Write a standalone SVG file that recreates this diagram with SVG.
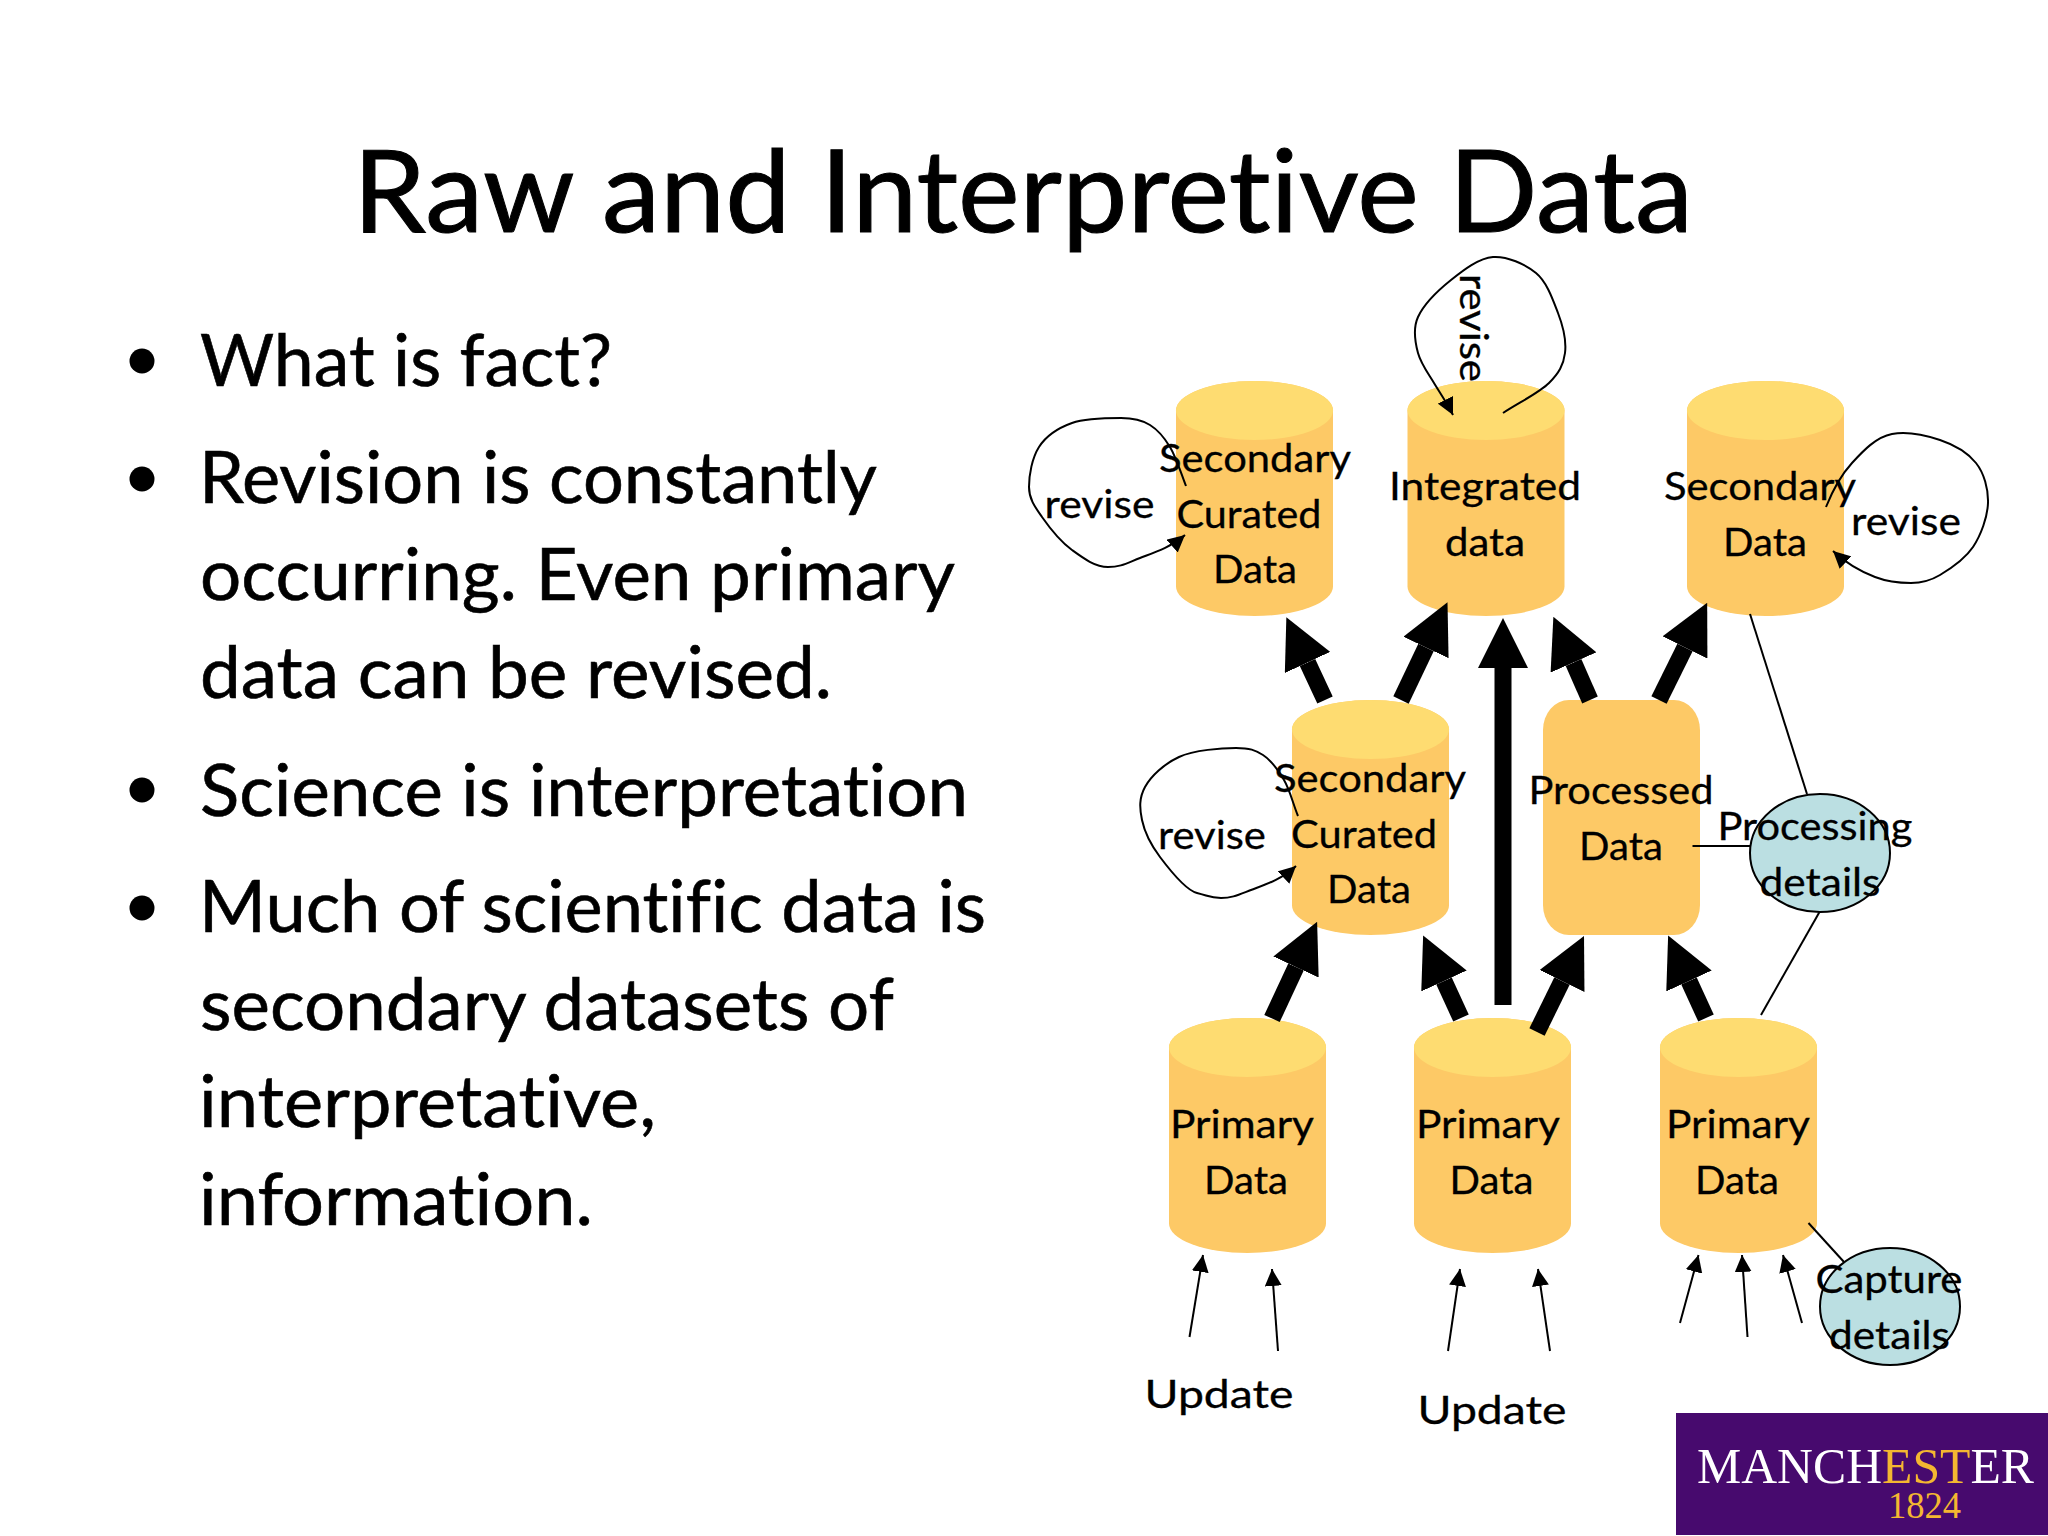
<svg xmlns="http://www.w3.org/2000/svg" width="2048" height="1536" viewBox="0 0 2048 1536">
<style>
text{font-family:"Lato","Open Sans",sans-serif;fill:#000;font-variant-ligatures:none}
.t{font-size:114px;stroke:#000;stroke-width:1}
.b{font-size:71px;stroke:#000;stroke-width:.6}
.n{font-size:39px;text-anchor:middle;stroke:#000;stroke-width:.3}
.body{fill:#fdc966}
.top{fill:#fedc71}
.det{fill:#bbdfe2;stroke:#000;stroke-width:2}
.thick{stroke:#000;fill:none;stroke-width:17;marker-end:url(#hk)}
.thin{stroke:#000;fill:none;stroke-width:2;marker-end:url(#hn)}
.plain{stroke:#000;fill:none;stroke-width:2}
.logo{font-family:"Liberation Serif",serif;stroke:none}
</style>
<defs>
<marker id="hk" viewBox="0 0 50 50" refX="0" refY="25" markerWidth="50" markerHeight="50" markerUnits="userSpaceOnUse" orient="auto"><path d="M0 0L50 25L0 50Z" fill="#000"/></marker>
<marker id="hn" viewBox="0 0 17 17" refX="17" refY="8.5" markerWidth="17" markerHeight="17" markerUnits="userSpaceOnUse" orient="auto"><path d="M0 0L17 8.5L0 17Z" fill="#000"/></marker>
<g id="cyl">
<path class="body" d="M0 29.5A78.5 29.5 0 0 1 157 29.5V205.5A78.5 29.5 0 0 1 0 205.5Z"/>
<ellipse class="top" cx="78.5" cy="29.5" rx="78.5" ry="29.5"/>
</g>
</defs>
<rect width="2048" height="1536" fill="#fff"/>

<g id="title"><text class="t" x="353" y="232" textLength="1340" lengthAdjust="spacingAndGlyphs">Raw and Interpretive Data</text></g>

<g id="bullets">
<circle cx="142" cy="361" r="12.5"/><circle cx="142" cy="479" r="12.5"/><circle cx="142" cy="790" r="12.5"/><circle cx="142" cy="908" r="12.5"/>
<text class="b" x="200" y="386" textLength="412" lengthAdjust="spacingAndGlyphs">What is fact?</text>
<text class="b" x="199" y="503" textLength="678" lengthAdjust="spacingAndGlyphs">Revision is constantly</text>
<text class="b" x="200" y="600" textLength="755" lengthAdjust="spacingAndGlyphs">occurring. Even primary</text>
<text class="b" x="200" y="698" textLength="632" lengthAdjust="spacingAndGlyphs">data can be revised.</text>
<text class="b" x="200" y="816" textLength="768" lengthAdjust="spacingAndGlyphs">Science is interpretation</text>
<text class="b" x="199" y="932" textLength="787" lengthAdjust="spacingAndGlyphs">Much of scientific data is</text>
<text class="b" x="200" y="1030" textLength="694" lengthAdjust="spacingAndGlyphs">secondary datasets of</text>
<text class="b" x="199" y="1127" textLength="457" lengthAdjust="spacingAndGlyphs">interpretative,</text>
<text class="b" x="199" y="1225" textLength="394" lengthAdjust="spacingAndGlyphs">information.</text>
</g>

<text id="revise-integrated" class="n" style="text-anchor:start" transform="translate(1460 274) rotate(90)" textLength="108" lengthAdjust="spacingAndGlyphs">revise</text>

<g id="secondary-curated-top"><use href="#cyl" x="1176" y="381"/>
<text class="n" x="1255" y="472" textLength="192" lengthAdjust="spacingAndGlyphs">Secondary</text>
<text class="n" x="1249" y="528" textLength="145" lengthAdjust="spacingAndGlyphs">Curated</text>
<text class="n" x="1255" y="583" textLength="84" lengthAdjust="spacingAndGlyphs">Data</text></g>
<g id="integrated"><use href="#cyl" x="1407.5" y="381"/>
<text class="n" x="1485" y="500" textLength="192" lengthAdjust="spacingAndGlyphs">Integrated</text>
<text class="n" x="1485" y="556" textLength="80" lengthAdjust="spacingAndGlyphs">data</text></g>
<g id="secondary-data"><use href="#cyl" x="1687" y="381"/>
<text class="n" x="1760" y="500" textLength="192" lengthAdjust="spacingAndGlyphs">Secondary</text>
<text class="n" x="1765" y="556" textLength="84" lengthAdjust="spacingAndGlyphs">Data</text></g>
<g id="secondary-curated-mid"><use href="#cyl" x="1292" y="700"/>
<text class="n" x="1370" y="792" textLength="192" lengthAdjust="spacingAndGlyphs">Secondary</text>
<text class="n" x="1364" y="848" textLength="146" lengthAdjust="spacingAndGlyphs">Curated</text>
<text class="n" x="1369" y="903" textLength="84" lengthAdjust="spacingAndGlyphs">Data</text></g>
<g id="processed"><rect class="body" x="1543" y="700" width="157" height="235" rx="26" ry="30"/>
<text class="n" x="1621" y="804" textLength="185" lengthAdjust="spacingAndGlyphs">Processed</text>
<text class="n" x="1621" y="860" textLength="84" lengthAdjust="spacingAndGlyphs">Data</text></g>
<g id="primary-1"><use href="#cyl" x="1169" y="1018"/>
<text class="n" x="1242" y="1138" textLength="144" lengthAdjust="spacingAndGlyphs">Primary</text>
<text class="n" x="1246" y="1194" textLength="84" lengthAdjust="spacingAndGlyphs">Data</text></g>
<g id="primary-2"><use href="#cyl" x="1414" y="1018"/>
<text class="n" x="1488" y="1138" textLength="144" lengthAdjust="spacingAndGlyphs">Primary</text>
<text class="n" x="1491.500" y="1194" textLength="84" lengthAdjust="spacingAndGlyphs">Data</text></g>
<g id="primary-3"><use href="#cyl" x="1660" y="1018"/>
<text class="n" x="1738" y="1138" textLength="144" lengthAdjust="spacingAndGlyphs">Primary</text>
<text class="n" x="1737" y="1194" textLength="84" lengthAdjust="spacingAndGlyphs">Data</text></g>

<g id="connectors">
<line class="plain" x1="1750" y1="614" x2="1807" y2="794"/>
<line class="plain" x1="1819.5" y1="912" x2="1761" y2="1015"/>
<line class="plain" x1="1692.5" y1="846" x2="1750" y2="846"/>
<line class="plain" x1="1808.5" y1="1223" x2="1844" y2="1262"/>
<line class="thick" x1="1325" y1="700" x2="1307.5" y2="662.5"/>
<line class="thick" x1="1401" y1="700" x2="1426" y2="647.5"/>
<line class="thick" x1="1503" y1="1005" x2="1503" y2="668"/>
<line class="thick" x1="1590" y1="700" x2="1573.5" y2="662.5"/>
<line class="thick" x1="1659" y1="700" x2="1685" y2="647.5"/>
<line class="thick" x1="1272" y1="1018.5" x2="1296" y2="967"/>
<line class="thick" x1="1461" y1="1018" x2="1444" y2="981"/>
<line class="thick" x1="1537" y1="1032" x2="1562" y2="981"/>
<line class="thick" x1="1706" y1="1018" x2="1689" y2="981"/>
<line class="thin" x1="1189.5" y1="1337" x2="1203" y2="1255"/>
<line class="thin" x1="1278" y1="1351" x2="1272" y2="1269"/>
<line class="thin" x1="1448" y1="1351" x2="1460" y2="1269"/>
<line class="thin" x1="1550" y1="1351" x2="1538" y2="1269"/>
<line class="thin" x1="1680" y1="1323" x2="1698.5" y2="1255"/>
<line class="thin" x1="1747.5" y1="1337" x2="1742" y2="1255"/>
<line class="thin" x1="1802" y1="1323" x2="1783" y2="1255"/>
<path class="thin" d="M1186 486C1181 473 1176 457 1170 447S1158 430 1150 425S1134 418 1121 418S1086 418 1072 423S1046 436 1039 447S1029 475 1029 487S1035 507 1042 517S1061 542 1072 550S1095 567 1108 567S1127 563 1140 558S1170 548 1185 535"/>
<path class="thin" d="M1503 413C1518 403 1539 393 1549 383S1563.5 365 1565 353S1563 326 1558 313S1547 282 1536 273S1507 256 1493 257S1463.5 270 1451 280S1423.5 305 1418 317S1415 342 1418 353S1428 373 1434 383S1447 403 1453 415"/>
<path class="thin" d="M1826 507C1832 492 1841 475 1852 463S1876 437 1892 434S1925 435 1940 440S1968 453 1976 463S1988.5 489 1988 503S1981 535 1973 547S1950 569 1940 575S1922 583 1911 583S1888 582 1875 577S1848 565 1833 551"/>
<path class="thin" d="M1298 816C1293 804 1290 790 1284 780S1271 760 1263 755S1250 748 1236 748S1194 750 1179 757S1151 776 1145 787S1139.5 808 1142 820S1151 845 1160 857S1185 890 1197 893S1210 898 1221 898S1238 895 1251 890S1281 880 1296 866"/>
</g>

<g id="processing-details"><ellipse class="det" cx="1820" cy="853" rx="70" ry="59"/>
<text class="n" x="1815" y="840" textLength="195" lengthAdjust="spacingAndGlyphs">Processing</text>
<text class="n" x="1820" y="896" textLength="121" lengthAdjust="spacingAndGlyphs">details</text></g>
<g id="capture-details"><ellipse class="det" cx="1890" cy="1306.5" rx="70" ry="58.5"/>
<text class="n" x="1889" y="1293" textLength="147" lengthAdjust="spacingAndGlyphs">Capture</text>
<text class="n" x="1889.500" y="1349" textLength="121" lengthAdjust="spacingAndGlyphs">details</text></g>

<g id="labels">
<text class="n" x="1099.5" y="518" textLength="110" lengthAdjust="spacingAndGlyphs">revise</text>
<text class="n" x="1906" y="535" textLength="110" lengthAdjust="spacingAndGlyphs">revise</text>
<text class="n" x="1212" y="849" textLength="108" lengthAdjust="spacingAndGlyphs">revise</text>
<text class="n" x="1219" y="1408" textLength="149" lengthAdjust="spacingAndGlyphs">Update</text>
<text class="n" x="1492" y="1424" textLength="149" lengthAdjust="spacingAndGlyphs">Update</text>
</g>

<g id="logo">
<rect x="1676" y="1413" width="372" height="122" fill="#470a6e"/>
<text class="logo" x="1697" y="1483" font-size="51" textLength="337" lengthAdjust="spacingAndGlyphs" style="fill:#fff">MANCH<tspan style="fill:#f4b731">EST</tspan>ER</text>
<text class="logo" x="1888" y="1518" font-size="38" textLength="73" lengthAdjust="spacingAndGlyphs" style="fill:#f4b731">1824</text>
</g>
</svg>
